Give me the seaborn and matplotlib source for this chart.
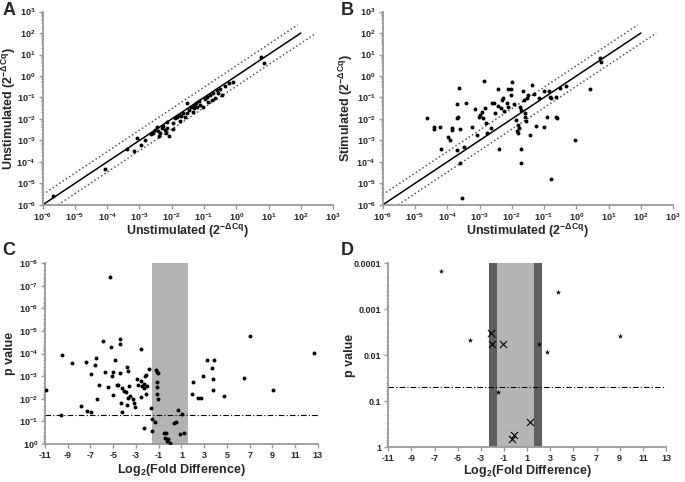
import numpy as np
import pandas as pd
import seaborn as sns
import matplotlib.pyplot as plt
from matplotlib.ticker import FixedLocator, LogLocator, NullFormatter

## panel A: unstimulated vs unstimulated, values are log10(2^-dCq)
a_log_x = [-5.67, -4.06, -3.40, -3.16, -3.09, -2.83, -2.65, -2.57, -2.52, -2.47,
           -2.42, -2.36, -2.31, -2.26, -2.21, -2.18, -2.14, -2.16, -2.10, -1.97,
           -1.90, -1.83, -1.77, -1.73, -1.70, -1.64, -1.59, -1.54, -1.52, -1.46,
           -1.41, -1.35, -1.31, -1.25, -1.21, -1.15, -1.11, -1.03, -0.98, -0.92,
           -0.87, -0.80, -0.72, -0.66, -0.61, -0.56, -0.49, -0.43, -0.35, -0.24,
           -0.11, 0.78, 0.87, -2.95, -2.40, -1.95, -1.30, -0.75]
a_log_y = [-5.61, -4.33, -3.41, -3.47, -2.91, -2.98, -2.70, -2.64, -2.51, -2.36,
           -2.54, -2.67, -2.43, -2.33, -2.51, -2.64, -2.43, -2.12, -2.78, -2.20,
           -1.97, -1.92, -1.81, -2.08, -1.86, -1.74, -1.92, -1.27, -1.74, -1.58,
           -1.43, -1.66, -1.35, -1.24, -1.43, -1.15, -1.35, -1.43, -1.09, -0.96,
           -1.19, -0.88, -0.81, -1.01, -0.65, -0.77, -0.62, -0.88, -0.46, -0.34,
           -0.26, 0.90, 0.62, -3.20, -2.80, -2.45, -1.50, -1.10]

## panel B: unstimulated vs stimulated
b_log_x = [-4.62, -4.41, -4.41, -4.21, -4.18, -3.97, -3.92, -3.86, -3.84, -3.71,
           -3.69, -3.66, -3.63, -3.59, -3.71, -3.59, -3.54, -3.48, -3.42, -3.22,
           -3.14, -3.09, -3.01, -2.97, -2.91, -2.89, -2.87, -2.82, -2.78, -2.80,
           -2.65, -2.60, -2.56, -2.53, -2.42, -2.42, -2.41, -2.34, -2.29, -2.27,
           -2.25, -2.16, -2.13, -2.11, -2.04, -2.01, -1.98, -1.94, -1.86, -1.84,
           -1.80, -1.80, -1.77, -1.75, -1.73, -1.72, -1.70, -1.65, -1.63, -1.60,
           -1.58, -1.55, -1.53, -1.49, -1.44, -1.36, -1.32, -1.26, -1.15, -1.01,
           -0.99, -0.91, -0.85, -0.82, -0.80, -0.80, -0.62, -0.60, -0.52, -0.05,
           -0.31, 0.41, 0.72, 0.77, -0.62]
b_log_y = [-1.94, -2.39, -2.48, -2.36, -3.41, -2.82, -2.98, -2.40, -2.51, -1.32,
           -1.97, -1.92, -0.57, -2.48, -3.44, -4.03, -5.66, -3.29, -1.27, -2.36,
           -1.55, -2.74, -1.89, -1.81, -1.69, -1.97, -0.22, -1.50, -2.64, -2.20,
           -2.43, -1.24, -1.27, -1.71, -0.62, -1.40, -3.41, -1.50, -1.12, -1.04,
           -1.61, -1.27, -1.46, -0.62, -0.88, -0.62, -0.26, -1.32, -2.05, -2.56,
           -2.67, -2.28, -2.43, -1.46, -1.58, -3.40, -4.03, -0.68, -1.12, -1.74,
           -1.92, -2.11, -1.04, -0.87, -2.73, -0.42, -0.84, -2.33, -1.04, -0.68,
           -2.36, -1.89, -0.70, -1.00, -1.04, -4.79, -1.89, -1.97, -0.57, -2.98,
           -0.46, -0.62, 0.82, 0.64, -0.96]

## panel C: all genes, log2 fold difference and -log10(p)
c_fold = [-10.9, -9.62, -9.51, -8.66, -7.87, -7.43, -7.34, -6.93, -6.96, -6.61,
          -6.52, -6.46, -6.23, -5.88, -5.70, -5.44, -5.32, -5.18, -5.09, -5.03,
          -5.00, -4.88, -4.65, -4.59, -4.42, -4.40, -4.40, -4.33, -4.27, -4.21,
          -4.06, -3.92, -3.83, -3.74, -3.71, -3.77, -3.60, -3.54, -3.24, -3.16,
          -3.10, -2.92, -2.83, -2.57, -2.60, -2.57, -2.48, -2.31, -2.28, -2.19,
          -2.13, -1.99, -2.16, -2.28, -1.84, -1.69, -1.61, -1.58, -1.34, -1.28,
          -1.14, -1.05, -1.14, -1.11, -1.17, -1.05, -0.55, -0.32, -0.44, -0.23,
          -0.29, -0.03, 0.38, 0.56, 0.71, 1.06, 0.85, 1.20,
          1.94, 1.97, 2.44, 2.70, 2.93, 3.25, 3.66, 3.78, 3.75, 3.90,
          4.78, 6.47, 7.00, 9.02, 12.65]
c_neglogp = [2.40, 1.27, 3.94, 3.57, 1.70, 3.62, 1.46, 1.40, 3.08, 3.48,
             3.82, 1.98, 2.60, 4.56, 3.19, 2.54, 7.41, 4.28, 3.01, 3.17,
             2.17, 3.72, 2.63, 2.60, 3.16, 4.41, 4.66, 1.83, 2.48, 1.43,
             2.33, 2.29, 3.42, 3.23, 2.05, 1.73, 2.57, 2.13, 1.98, 1.83,
             1.65, 2.86, 2.61, 2.80, 4.19, 2.10, 2.58, 2.66, 2.46, 3.01,
             3.06, 2.57, 2.21, 0.69, 3.32, 1.61, 0.56, 1.11, 0.99, 3.28,
             3.19, 3.16, 2.73, 2.52, 2.21, 1.98, 0.50, 0.47, 0.28, 0.21,
             0.13, 0.06, 0.92, 0.96, 1.51, 1.31, 0.43, 0.50,
             2.21, 2.76, 2.04, 2.04, 3.00, 3.73, 3.35, 2.89, 2.38, 3.70,
             2.11, 2.92, 4.80, 2.38, 4.02]

## panel D: selected genes (stars) and reference genes (crosses)
d_star_fold = [-6.45, -3.91, -1.55, 2.00, 2.75, 3.70, 9.03]
d_star_neglogp = [3.84, 2.34, 1.20, 2.25, 2.07, 3.37, 2.41]
d_cross_fold = [-2.15, -2.07, -1.09, 1.25, -0.16, -0.31]
d_cross_neglogp = [2.49, 2.25, 2.25, 0.56, 0.26, 0.17]

## reference lines
ident_x = [1e-6, 1e2]
upper_x = [1e-6, 8e1]       # 3 fold above
lower_x = [3e-6, 3e2]       # 3 fold below
fold3 = np.log2(3)
fold5 = np.log2(5)
p_cut = 0.05

sns.set_style("ticks")
plt.rcParams['font.family'] = ['Liberation Sans', 'DejaVu Sans']
plt.rcParams['font.weight'] = 'bold'
plt.rcParams['mathtext.fontset'] = 'custom'
plt.rcParams['mathtext.rm'] = 'Liberation Sans:bold'
plt.rcParams['mathtext.it'] = 'Liberation Sans:bold'
plt.rcParams['mathtext.bf'] = 'Liberation Sans:bold'
plt.rcParams['mathtext.default'] = 'rm'

SPINE = '#9a9a9a'
LABEL_FS = 9


def style_axes(ax):
    sns.despine(ax=ax)
    for s in ['left', 'bottom']:
        ax.spines[s].set_color(SPINE)
        ax.spines[s].set_linewidth(1.3)
    ax.tick_params(axis='both', which='major', labelsize=6.5, length=3,
                   color=SPINE, width=1, pad=2)
    ax.tick_params(axis='both', which='minor', length=1.8, color=SPINE, width=0.7)
    for lab in ax.get_xticklabels() + ax.get_yticklabels():
        lab.set_fontweight('bold')


def pow_labels(exps):
    return ['10$^{%d}$' % e for e in exps]


def scatter_panel(ax, lx, ly, ylabel, ylab_x):
    df = pd.DataFrame({'x': 10.0 ** np.array(lx), 'y': 10.0 ** np.array(ly)})
    ax.set_xscale('log')
    ax.set_yscale('log')
    ax.plot(ident_x, ident_x, color='black', lw=1.1, zorder=2)
    ax.plot(upper_x, [3 * v for v in upper_x], color='#555555', lw=1.1,
            linestyle=(0, (1, 1.6)), zorder=2)
    ax.plot(lower_x, [v / 3 for v in lower_x], color='#555555', lw=1.1,
            linestyle=(0, (1, 1.6)), zorder=2)
    sns.scatterplot(data=df, x='x', y='y', ax=ax, color='black', s=8,
                    linewidth=0, zorder=3)
    ax.set_xlim(1e-6, 1e3)
    ax.set_ylim(1e-6, 1e3)
    exps = list(range(-6, 4))
    ax.xaxis.set_major_locator(FixedLocator([10.0 ** e for e in exps]))
    ax.yaxis.set_major_locator(FixedLocator([10.0 ** e for e in exps]))
    ax.set_xticklabels(pow_labels(exps))
    ax.set_yticklabels(pow_labels(exps))
    ax.xaxis.set_minor_formatter(NullFormatter())
    ax.xaxis.set_minor_locator(FixedLocator([]))
    ax.yaxis.set_minor_locator(LogLocator(base=10, subs=np.arange(2, 10) * 1.0, numticks=20))
    ax.yaxis.set_minor_formatter(NullFormatter())
    ax.set_xlabel('Unstimulated (2$^{-\\Delta Cq}$)', fontsize=LABEL_FS, fontweight='bold')
    ax.set_ylabel(ylabel, fontsize=LABEL_FS, fontweight='bold')
    ax.xaxis.set_label_coords(0.5, -0.09)
    ax.yaxis.set_label_coords(ylab_x, 0.5)
    style_axes(ax)


def volcano_axes(ax, ylab_x, xlab_y):
    ax.set_yscale('log')
    ax.set_xlim(-11, 13)
    ax.set_xticks(list(range(-11, 14, 2)))
    ax.set_xticklabels([str(v) for v in range(-11, 14, 2)])
    ax.axhline(p_cut, color='black', lw=0.8, dashes=(5, 2, 1, 2), zorder=2)
    ax.set_xlabel('Log$_2$(Fold Difference)', fontsize=LABEL_FS, fontweight='bold')
    ax.set_ylabel('p value', fontsize=LABEL_FS, fontweight='bold')
    ax.xaxis.set_label_coords(0.5, xlab_y)
    ax.yaxis.set_label_coords(ylab_x, 0.5)
    ax.yaxis.set_minor_locator(LogLocator(base=10, subs=np.arange(2, 10) * 1.0, numticks=20))
    ax.yaxis.set_minor_formatter(NullFormatter())


fig = plt.figure(figsize=(6.85, 4.82), dpi=100)
axA = fig.add_axes([0.0623, 0.575, 0.424, 0.401])
axB = fig.add_axes([0.5587, 0.575, 0.424, 0.401])
axC = fig.add_axes([0.0657, 0.0788, 0.3985, 0.375])
axD = fig.add_axes([0.5669, 0.072, 0.4054, 0.3817])

scatter_panel(axA, a_log_x, a_log_y, 'Unstimulated (2$^{-\\Delta Cq}$)', -0.085)
scatter_panel(axB, b_log_x, b_log_y, 'Stimulated (2$^{-\\Delta Cq}$)', -0.095)

# panel C
volcano_axes(axC, -0.105, -0.10)
axC.axvspan(-fold3, fold3, color='#b3b3b3', lw=0, zorder=0)
dfc = pd.DataFrame({'fold': c_fold, 'p': 10.0 ** -np.array(c_neglogp)})
sns.scatterplot(data=dfc, x='fold', y='p', ax=axC, color='black', s=8,
                linewidth=0, zorder=3)
axC.set_ylim(1, 1e-8)
c_exps = list(range(0, -9, -1))
axC.yaxis.set_major_locator(FixedLocator([10.0 ** e for e in c_exps]))
axC.set_yticklabels(pow_labels(c_exps))
axC.set_xlabel('Log$_2$(Fold Difference)', fontsize=LABEL_FS, fontweight='bold')
axC.set_ylabel('p value', fontsize=LABEL_FS, fontweight='bold')
style_axes(axC)

# panel D
volcano_axes(axD, -0.115, -0.085)
axD.axvspan(-fold5, fold5, color='#5f5f5f', lw=0, zorder=0)
axD.axvspan(-fold3, fold3, color='#b5b5b5', lw=0, zorder=0)
dfs = pd.DataFrame({'fold': d_star_fold, 'p': 10.0 ** -np.array(d_star_neglogp)})
dfx = pd.DataFrame({'fold': d_cross_fold, 'p': 10.0 ** -np.array(d_cross_neglogp)})
sns.scatterplot(data=dfs, x='fold', y='p', ax=axD, color='black', marker='*',
                s=16, linewidth=0, zorder=3)
sns.scatterplot(data=dfx, x='fold', y='p', ax=axD, color='black', marker='x',
                s=26, linewidth=0.8, zorder=3)
axD.set_ylim(1, 1e-4)
d_ticks = [1, 0.1, 0.01, 0.001, 0.0001]
axD.yaxis.set_major_locator(FixedLocator(d_ticks))
axD.set_yticklabels(['1', '0.1', '0.01', '0.001', '0.0001'])
axD.set_xlabel('Log$_2$(Fold Difference)', fontsize=LABEL_FS, fontweight='bold')
axD.set_ylabel('p value', fontsize=LABEL_FS, fontweight='bold')
style_axes(axD)

for lbl, x, y in [('A', 0.004, 0.995), ('B', 0.497, 0.995),
                  ('C', 0.004, 0.497), ('D', 0.497, 0.497)]:
    fig.text(x, y, lbl, fontsize=13, fontweight='bold', va='top', ha='left')

fig.savefig('out.png', dpi=100)
